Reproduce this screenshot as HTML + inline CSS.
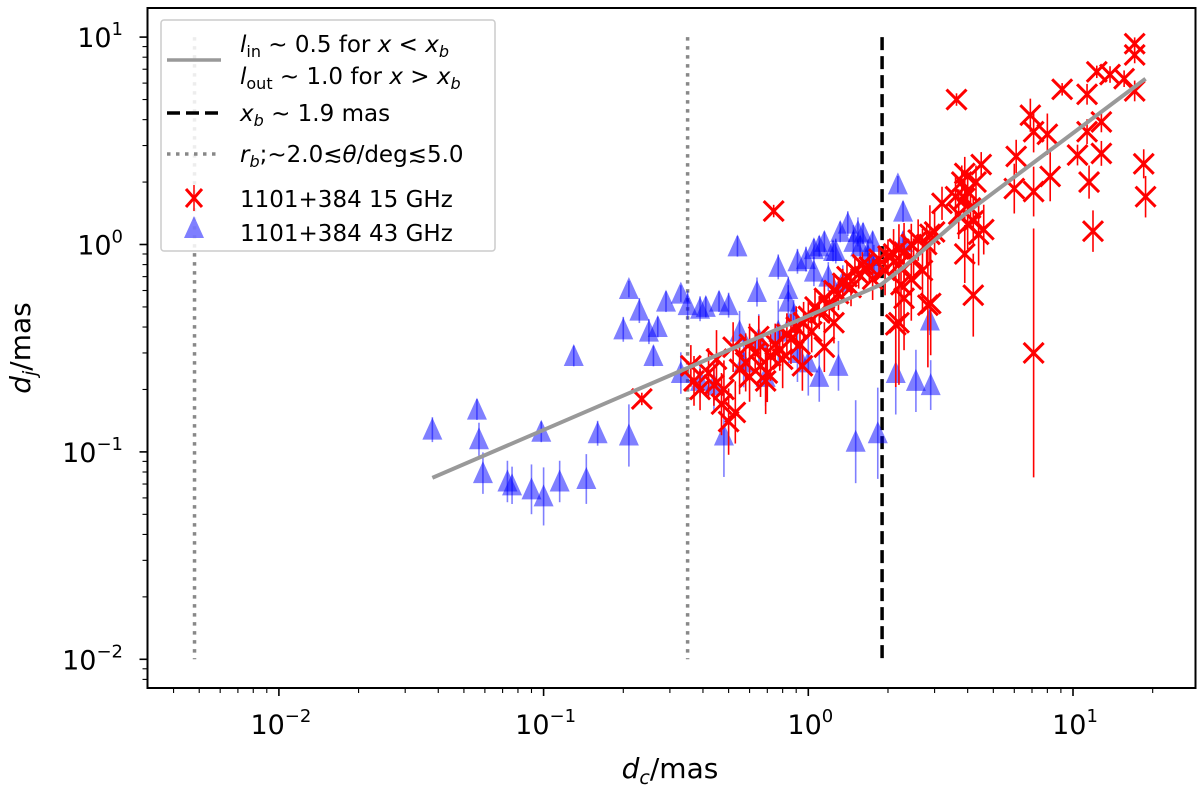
<!DOCTYPE html>
<html><head><meta charset="utf-8"><style>
html,body{margin:0;padding:0;background:#fff}
svg{display:block}
text{font-family:"DejaVu Sans","Liberation Sans",sans-serif;fill:#000}
</style></head><body>
<svg id="chart" width="1200" height="785" viewBox="0 0 1200 785" xmlns="http://www.w3.org/2000/svg">
<rect x="0" y="0" width="1200" height="785" fill="#fff"/>
<g id="marks"></g>
<rect x="147.5" y="8" width="1048" height="680" fill="none" stroke="#000" stroke-width="2"/>
<g id="axes"></g>
<text x="670" y="778" font-size="28" text-anchor="middle"><tspan font-style="italic">d</tspan><tspan font-style="italic" font-size="19" dy="6">c</tspan><tspan dy="-6">/mas</tspan></text>
<text transform="translate(30,348) rotate(-90)" font-size="28" text-anchor="middle"><tspan font-style="italic">d</tspan><tspan font-style="italic" font-size="19" dy="6">j</tspan><tspan dy="-6">/mas</tspan></text>
<g>
<rect x="161" y="20" width="334" height="231" rx="3" fill="#fff" fill-opacity="0.85" stroke="#ccc" stroke-width="1.5"/>
<g>
<line x1="167" y1="60" x2="221" y2="60" stroke="#999" stroke-width="3.5"/>
<text x="240" y="52" font-size="23"><tspan font-style="italic">l</tspan><tspan font-size="16" dy="5">in</tspan><tspan dy="-5"> ~ 0.5 for </tspan><tspan font-style="italic">x</tspan><tspan> &lt; </tspan><tspan font-style="italic">x</tspan><tspan font-style="italic" font-size="16" dy="5">b</tspan></text>
<text x="240" y="84" font-size="23"><tspan font-style="italic">l</tspan><tspan font-size="16" dy="5">out</tspan><tspan dy="-5"> ~ 1.0 for </tspan><tspan font-style="italic">x</tspan><tspan> &gt; </tspan><tspan font-style="italic">x</tspan><tspan font-style="italic" font-size="16" dy="5">b</tspan></text>
</g>
<g>
<line x1="167" y1="113" x2="221" y2="113" stroke="#000" stroke-width="3.5" stroke-dasharray="13,6"/>
<text x="240" y="121" font-size="23"><tspan font-style="italic">x</tspan><tspan font-style="italic" font-size="16" dy="5">b</tspan><tspan dy="-5"> ~ 1.9 mas</tspan></text>
</g>
<g>
<line x1="167" y1="154" x2="221" y2="154" stroke="#888" stroke-width="3.5" stroke-dasharray="3.5,5.5"/>
<text x="240" y="162" font-size="23"><tspan font-style="italic">r</tspan><tspan font-style="italic" font-size="16" dy="5">b</tspan><tspan dy="-5">;~2.0≲</tspan><tspan font-style="italic">θ</tspan><tspan>/deg≲5.0</tspan></text>
</g>
<g>
<path d="M186,189 L202,207 M202,189 L186,207" stroke="#f00" stroke-width="3"/>
<line x1="194" y1="185" x2="194" y2="211" stroke="#f00" stroke-width="1.5"/>
<text x="240" y="207" font-size="23">1101+384 15 GHz</text>
</g>
<g>
<path d="M194,216 L204,238 L184,238 Z" fill="rgba(0,0,255,0.5)"/>
<text x="240" y="241" font-size="23">1101+384 43 GHz</text>
</g>
</g>
</svg>
<script>
// ---- data ----
const xTickValues = [0.01, 0.1, 1, 10];
const xTickExps = ["−2", "−1", "0", "1"];
const yTickValues = [0.01, 0.1, 1, 10];
const yTickExps = ["−2", "−1", "0", "1"];

const blueDc = [0.038,0.056,0.057,0.059,0.073,0.076,0.09,0.10,0.098,0.115,0.145,0.16,0.21,0.21,0.26,0.13,0.20,0.27,0.33,0.23,0.25,0.29,0.35,0.39,0.41,0.46,0.50,0.33,0.39,0.44,0.48,0.54,0.84,0.91,0.98,1.1,1.24,1.41,1.54,1.48,1.68,1.77,1.35,1.19,1.05,0.84,0.77,0.91,1.0,1.1,1.3,1.51,1.83,2.18,2.28,2.28,2.14,2.55,2.9,2.88,1.05,1.15,1.32,1.57,1.75,0.55,0.65,0.57,0.69,0.88,0.77,0.64,1.61,1.27];
const blueDj = [0.128,0.16,0.115,0.079,0.072,0.069,0.066,0.061,0.125,0.072,0.074,0.123,0.12,0.61,0.29,0.29,0.39,0.40,0.58,0.48,0.38,0.53,0.51,0.49,0.50,0.53,0.51,0.24,0.22,0.21,0.12,0.98,0.61,0.83,0.85,0.98,0.93,1.26,1.15,1.03,0.88,0.81,0.66,0.70,0.74,0.53,0.38,0.30,0.27,0.23,0.26,0.112,0.123,1.95,1.44,1.03,0.24,0.22,0.21,0.43,0.95,1.03,1.15,0.98,1.03,0.38,0.35,0.27,0.23,0.45,0.78,0.59,1.13,0.93];
const blueErr = [0.06,0.05,0.08,0.1,0.1,0.09,0.12,0.14,0.05,0.1,0.12,0.06,0.15,0.04,0.05,0.05,0.06,0.05,0.04,0.06,0.06,0.05,0.07,0.06,0.05,0.05,0.06,0.1,0.08,0.12,0.2,0.05,0.06,0.06,0.06,0.05,0.05,0.06,0.07,0.08,0.08,0.09,0.08,0.07,0.07,0.08,0.15,0.14,0.16,0.12,0.12,0.2,0.22,0.04,0.05,0.05,0.2,0.15,0.12,0.07,0.05,0.05,0.05,0.05,0.05,0.1,0.12,0.12,0.14,0.08,0.06,0.07,0.05,0.06];

const redDc = [0.235,0.36,0.37,0.39,0.42,0.44,0.45,0.47,0.48,0.5,0.53,0.55,0.58,0.6,0.63,0.66,0.69,0.7,0.72,0.75,0.78,0.8,0.83,0.86,0.9,0.93,0.96,1.0,1.03,1.06,1.1,1.15,1.2,1.25,1.3,1.35,1.4,1.45,1.5,1.55,1.6,1.7,1.75,1.85,2.0,2.1,2.2,2.3,2.45,2.6,2.3,2.2,2.45,2.9,2.7,0.74,0.6,0.52,0.65,1.25,1.15,0.95,3.63,3.9,3.2,4.5,4.4,4.6,3.9,4.2,6.0,6.1,6.9,7.1,8.0,8.2,7.1,7.1,9.1,10.4,11.5,11.9,11.3,12.3,11.3,12.8,12.8,13.8,15.6,17.1,17.1,17.1,18.5,18.8,2.88,2.83,2.24,2.14,3.7,3.8,4.0,4.1,3.9,4.2,3.6,4.3,4.0,2.5,2.8,3.0,2.2,1.95];
const redDj = [0.18,0.26,0.22,0.2,0.24,0.21,0.28,0.17,0.2,0.14,0.155,0.25,0.27,0.23,0.3,0.26,0.22,0.24,0.29,0.33,0.31,0.28,0.37,0.35,0.4,0.33,0.42,0.45,0.38,0.5,0.47,0.55,0.5,0.6,0.58,0.65,0.7,0.62,0.75,0.72,0.8,0.78,0.68,0.85,0.88,0.9,0.95,0.92,1.0,1.05,0.55,0.42,0.68,0.52,0.75,1.45,0.33,0.32,0.36,0.42,0.32,0.26,5.0,1.67,1.58,2.43,1.12,1.18,0.9,0.57,1.86,2.66,4.2,3.5,3.4,2.13,1.8,0.30,5.6,2.7,2.0,1.16,5.3,6.8,3.5,3.9,2.75,6.6,6.3,9.3,8.2,5.5,2.45,1.7,1.12,0.51,0.64,0.41,1.4,2.0,1.8,1.5,2.2,1.3,1.7,2.0,1.25,0.85,1.0,1.15,0.8,0.75];
const redErr = [0.03,0.1,0.12,0.1,0.12,0.1,0.14,0.15,0.14,0.16,0.15,0.12,0.14,0.12,0.1,0.15,0.16,0.14,0.12,0.1,0.1,0.14,0.1,0.12,0.1,0.12,0.1,0.08,0.1,0.08,0.08,0.08,0.08,0.07,0.08,0.07,0.07,0.09,0.06,0.07,0.06,0.07,0.1,0.06,0.08,0.12,0.12,0.14,0.1,0.1,0.25,0.3,0.2,0.25,0.2,0.03,0.1,0.12,0.1,0.1,0.12,0.12,0.03,0.1,0.08,0.06,0.15,0.12,0.14,0.2,0.12,0.08,0.08,0.1,0.1,0.12,0.12,0.6,0.03,0.05,0.08,0.1,0.05,0.03,0.06,0.05,0.06,0.04,0.04,0.03,0.04,0.05,0.07,0.1,0.14,0.3,0.2,0.3,0.12,0.08,0.1,0.1,0.08,0.12,0.1,0.08,0.12,0.1,0.1,0.1,0.12,0.12];

const fitDc = [0.038, 1.88, 2.3, 3.9, 18.8];
const fitDj = [0.075, 0.64, 0.78, 1.4, 6.3];
const breakDc = [1.9];
const rbDc = [0.0048, 0.35];
const vlineRange = [0.01, 10];

// ---- axes ----
const X0 = 808.3, XD = 264.7, Y0 = 244.5, YD = 207.4;
function sx(v){ return X0 + Math.log10(v) * XD; }
function sy(v){ return Y0 - Math.log10(v) * YD; }
const NS = "http://www.w3.org/2000/svg";
function mk(tag, attrs, parent){
  const e = document.createElementNS(NS, tag);
  for (const k in attrs) e.setAttribute(k, attrs[k]);
  parent.appendChild(e);
  return e;
}
const marks = document.getElementById('marks');
const axes = document.getElementById('axes');

for (let d = -3; d <= 1; d++) {
  for (let m = 1; m <= 9; m++) {
    const v = m * Math.pow(10, d);
    const px = sx(v);
    if (px < 148 || px > 1195) continue;
    const t = mk('line', {x1: px, y1: 688, x2: px, y2: 688 + (m === 1 ? 8 : 5), stroke: '#000', 'stroke-width': m === 1 ? 1.6 : 1.1}, axes);
    
    
  }
}
for (let d = -3; d <= 1; d++) {
  for (let m = 1; m <= 9; m++) {
    const v = m * Math.pow(10, d);
    const py = sy(v);
    if (py < 8 || py > 688) continue;
    const t = mk('line', {x1: 147.5, y1: py, x2: 147.5 - (m === 1 ? 8 : 5), y2: py, stroke: '#000', 'stroke-width': m === 1 ? 1.6 : 1.1}, axes);
    
    
  }
}
xTickValues.forEach((v, i) => {
  const t = mk('text', {x: sx(v) + 2, y: 734, 'font-size': 27, 'text-anchor': 'middle'}, axes);
  
  
  t.innerHTML = '10<tspan font-size="18" dy="-12">' + xTickExps[i] + '</tspan>';
});
yTickValues.forEach((v, i) => {
  const t = mk('text', {x: 123, y: sy(v) + 10, 'font-size': 27, 'text-anchor': 'end'}, axes);
  
  
  t.innerHTML = '10<tspan font-size="18" dy="-12">' + yTickExps[i] + '</tspan>';
});

rbDc.forEach(v => {
  const l = mk('line', {x1: sx(v), x2: sx(v), y1: sy(vlineRange[1]), y2: sy(vlineRange[0]), stroke: '#888', 'stroke-width': 3.5, 'stroke-dasharray': '3.5,5.5'}, marks);
  
  
});
breakDc.forEach(v => {
  const l = mk('line', {x1: sx(v), x2: sx(v), y1: sy(vlineRange[1]), y2: sy(vlineRange[0]), stroke: '#000', 'stroke-width': 3.5, 'stroke-dasharray': '13,6'}, marks);
  
  
});

blueDc.forEach((x, i) => {
  const y = blueDj[i]; if (y === undefined) return;
  const e = blueErr[i] ?? 0.08;
  const px = sx(x), py = sy(y);
  const g = mk('g', {}, marks);
  
  
  mk('line', {x1: px, x2: px, y1: sy(y * Math.pow(10, e)), y2: sy(y / Math.pow(10, e)), stroke: 'rgba(0,0,255,0.5)', 'stroke-width': 1.6}, g);
  mk('path', {d: `M${px},${py-12} L${px+10},${py+10} L${px-10},${py+10} Z`, fill: 'rgba(0,0,255,0.5)'}, g);
});

redDc.forEach((x, i) => {
  const y = redDj[i]; if (y === undefined) return;
  const e = redErr[i] ?? 0.1;
  const px = sx(x), py = sy(y);
  const g = mk('g', {}, marks);
  
  
  mk('line', {x1: px, x2: px, y1: sy(y * Math.pow(10, e)), y2: sy(y / Math.pow(10, e)), stroke: '#f00', 'stroke-width': 1.6}, g);
  mk('path', {d: `M${px-10},${py-10} L${px+10},${py+10} M${px+10},${py-10} L${px-10},${py+10}`, stroke: '#f00', 'stroke-width': 3, fill: 'none'}, g);
});

const fit = mk('polyline', {points: fitDc.map((x, i) => sx(x) + ',' + sy(fitDj[i])).join(' '), fill: 'none', stroke: '#999', 'stroke-width': 4, 'stroke-linejoin': 'round'}, marks);


</script>
</body></html>
